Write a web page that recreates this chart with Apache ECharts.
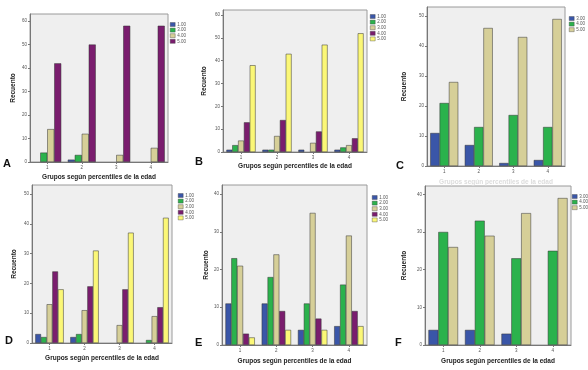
<!DOCTYPE html>
<html>
<head>
<meta charset="utf-8">
<script src="https://cdn.jsdelivr.net/npm/echarts@6/dist/echarts.min.js"></script>
<style>html,body{margin:0;padding:0;background:#fff;}#c{width:588px;height:370px;}</style>
</head>
<body>
<div id="c"></div>
<script>
// ---- data ----
const groups = ['1', '2', '3', '4'];
const xTitle = 'Grupos según percentiles de la edad';
const yTitle = 'Recuento';

const legendA = ['1.00', '3.00', '4.00', '5.00'];
const valuesA = [[0, 1, 0, 0], [4, 3, 0, 0], [14, 12, 3, 6], [42, 50, 58, 58]];

const legendB = ['1.00', '2.00', '3.00', '4.00', '5.00'];
const valuesB = [[1, 1, 1, 1], [3, 1, 0, 2], [5, 7, 4, 3], [13, 14, 9, 6], [38, 43, 47, 52]];

const legendC = ['3.00', '4.00', '5.00'];
const valuesC = [[11, 7, 1, 2], [21, 13, 17, 13], [28, 46, 43, 49]];

const legendD = ['1.00', '2.00', '3.00', '4.00', '5.00'];
const valuesD = [[3, 2, 0, 0], [2, 3, 0, 1], [13, 11, 6, 9], [24, 19, 18, 12], [18, 31, 37, 42]];

const legendE = ['1.00', '2.00', '3.00', '4.00', '5.00'];
const valuesE = [[11, 11, 4, 5], [23, 18, 11, 16], [21, 24, 35, 29], [3, 9, 7, 9], [2, 4, 4, 5]];

const legendF = ['3.00', '4.00', '5.00'];
const valuesF = [[4, 4, 3, 0], [30, 33, 23, 25], [26, 29, 35, 39]];

const letters = ['A', 'B', 'C', 'D', 'E', 'F'];

// ---- layout / style ----
const palette = ['#3A56A8', '#2BB24C', '#D6CF98', '#7A1D6E', '#FBF777'];
const panels = [
  {legend: legendA, values: valuesA, grid: {left: 30, top: 14, width: 138, height: 148}, yMax: 63, lg: {left: 170, top: 22}, xGap: 12, yGap: 13, letter: [3, 164], xColor: '#222'},
  {legend: legendB, values: valuesB, grid: {left: 223, top: 10, width: 144, height: 142}, yMax: 62.2, lg: {left: 370, top: 14}, xGap: 11, yGap: 15, letter: [195, 162], xColor: '#222'},
  {legend: legendC, values: valuesC, grid: {left: 427, top: 7, width: 138, height: 159}, yMax: 53, lg: {left: 569, top: 16}, xGap: 13, yGap: 19, letter: [396, 166], xColor: '#dcdcdc'},
  {legend: legendD, values: valuesD, grid: {left: 32, top: 185, width: 140, height: 158}, yMax: 53, lg: {left: 178, top: 193}, xGap: 12, yGap: 14, letter: [5, 341], xColor: '#222'},
  {legend: legendE, values: valuesE, grid: {left: 222, top: 185, width: 145, height: 160}, yMax: 42.4, lg: {left: 372, top: 195}, xGap: 13, yGap: 11, letter: [195, 343], xColor: '#222'},
  {legend: legendF, values: valuesF, grid: {left: 425, top: 186, width: 146, height: 159}, yMax: 42.2, lg: {left: 572, top: 194}, xGap: 13, yGap: 17, letter: [395, 343], xColor: '#222'}
];

const font = 'Liberation Sans, Arial, sans-serif';
const option = {
  animation: false,
  backgroundColor: '#ffffff',
  grid: [], xAxis: [], yAxis: [], series: [], legend: [], graphic: []
};

panels.forEach((p, i) => {
  option.grid.push(Object.assign({show: true, backgroundColor: '#EFEFEF', borderColor: '#9a9a9a', borderWidth: 1, containLabel: false}, p.grid));
  option.xAxis.push({
    type: 'category', gridIndex: i, data: groups,
    name: xTitle, nameLocation: 'middle', nameGap: p.xGap,
    nameTextStyle: {fontSize: 6.5, fontWeight: 'bold', color: p.xColor, fontFamily: font},
    axisLine: {lineStyle: {color: '#777', width: 1}},
    axisTick: {show: true, alignWithLabel: true, length: 2, lineStyle: {color: '#777'}},
    axisLabel: {fontSize: 4.5, color: '#555', margin: 3, fontFamily: font}
  });
  option.yAxis.push({
    type: 'value', gridIndex: i, min: 0, max: p.yMax, interval: 10,
    name: yTitle, nameLocation: 'middle', nameGap: p.yGap, nameRotate: 90,
    nameTextStyle: {fontSize: 6.5, fontWeight: 'bold', color: '#222', fontFamily: font},
    axisLine: {show: true, lineStyle: {color: '#777', width: 1}},
    axisTick: {show: true, length: 2, lineStyle: {color: '#777'}},
    axisLabel: {fontSize: 4.5, color: '#555', margin: 3, showMaxLabel: false, fontFamily: font,
      formatter: v => (v % 10 === 0 ? String(v) : '')},
    splitLine: {show: false}
  });
  const names = [];
  p.legend.forEach((lbl, k) => {
    const nm = letters[i] + ' ' + lbl;
    names.push(nm);
    option.series.push({
      type: 'bar', name: nm, xAxisIndex: i, yAxisIndex: i,
      data: p.values[k].map(v => (v === 0 ? {value: v, itemStyle: {borderWidth: 0}} : v)),
      barGap: '0%', barCategoryGap: '19%',
      itemStyle: {color: palette[k], borderColor: '#333', borderWidth: 0.5}
    });
  });
  option.legend.push({
    data: names, orient: 'vertical', left: p.lg.left, top: p.lg.top,
    icon: 'rect', itemWidth: 5, itemHeight: 4, itemGap: 0.6, padding: 0,
    itemStyle: {borderWidth: 0.4, borderColor: '#444'},
    formatter: n => n.slice(2),
    textStyle: {fontSize: 4.5, color: '#555', padding: [0, 0, 0, -3], fontFamily: font},
    selectedMode: false
  });
  option.graphic.push({
    type: 'text', left: p.letter[0], top: p.letter[1] - 6,
    style: {text: letters[i], font: 'bold 11px ' + font, fill: '#111'}
  });
});

const chart = echarts.init(document.getElementById('c'), null, {renderer: 'canvas'});
chart.setOption(option);
</script>
</body>
</html>
